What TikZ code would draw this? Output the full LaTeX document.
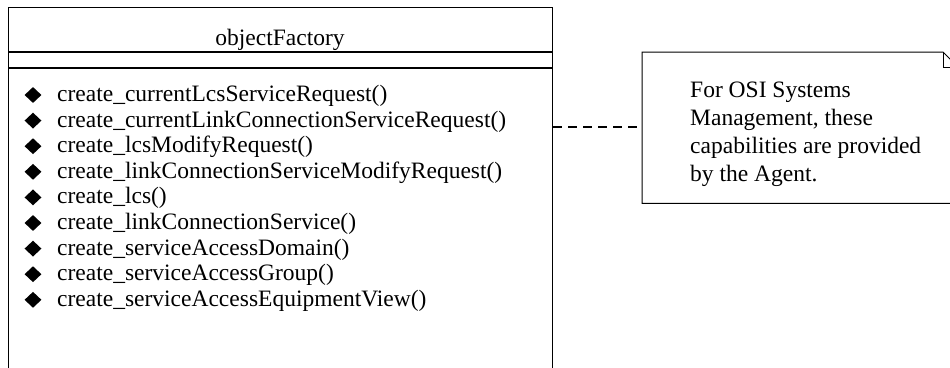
\documentclass[tikz,border=0pt]{standalone}
\usepackage{fontspec}
\setmainfont{Liberation Serif}
\usetikzlibrary{shapes.geometric}
\begin{document}
\begin{tikzpicture}[x=1pt,y=-1pt,
  boxline/.style={draw=black, line width=1pt},
  sepline/.style={draw=black, line width=2pt},
  bullet/.style={diamond, fill=black, inner sep=0pt, minimum width=17pt, minimum height=16pt},
  txt/.style={inner sep=0pt, font=\fontsize{23.5}{27}\selectfont},
  link/.style={draw=black, line width=1.6pt, dash pattern=on 9pt off 6pt}]
\useasboundingbox (0,0) rectangle (950,367);
% class box
\node[boxline, anchor=north west, minimum width=544pt, minimum height=380pt, inner sep=0pt] (cls) at (8,7) {};
\coordinate (s1) at (0,52);
\coordinate (s2) at (0,68);
\draw[sepline] (cls.west |- s1) -- (cls.east |- s1);
\draw[sepline] (cls.west |- s2) -- (cls.east |- s2);
\node[txt, anchor=base] (title) at (280,45) {objectFactory};
\foreach \t [count=\i from 0] in {create\_currentLcsServiceRequest(),
  create\_currentLinkConnectionServiceRequest(),
  create\_lcsModifyRequest(),
  create\_linkConnectionServiceModifyRequest(),
  create\_lcs(),
  create\_linkConnectionService(),
  create\_serviceAccessDomain(),
  create\_serviceAccessGroup(),
  create\_serviceAccessEquipmentView()} {
  \node[bullet] (b\i) at (33,{95+25.6*\i}) {};
  \node[txt, anchor=base west] (m\i) at (57,{101.5+25.6*\i}) {\t};
}
% note
\node[anchor=north west, minimum width=320pt, minimum height=151pt, inner sep=0pt] (note) at (642,52) {};
\draw[boxline] (note.north west) -- ++(301,0) -- ++(16,16) |- (note.south west) -- cycle;
\draw[boxline] (note.north west) ++(301,0) |- ++(16,15);
\foreach \t [count=\i from 0] in {For OSI Systems, {Management, these}, capabilities are provided, by the Agent.} {
  \node[txt, anchor=base west] (n\i) at (690,{97+28*\i}) {\t};
}
% connector
\coordinate (d) at (0,127);
\draw[link] (cls.east |- d) -- (note.west |- d);
\end{tikzpicture}
\end{document}
